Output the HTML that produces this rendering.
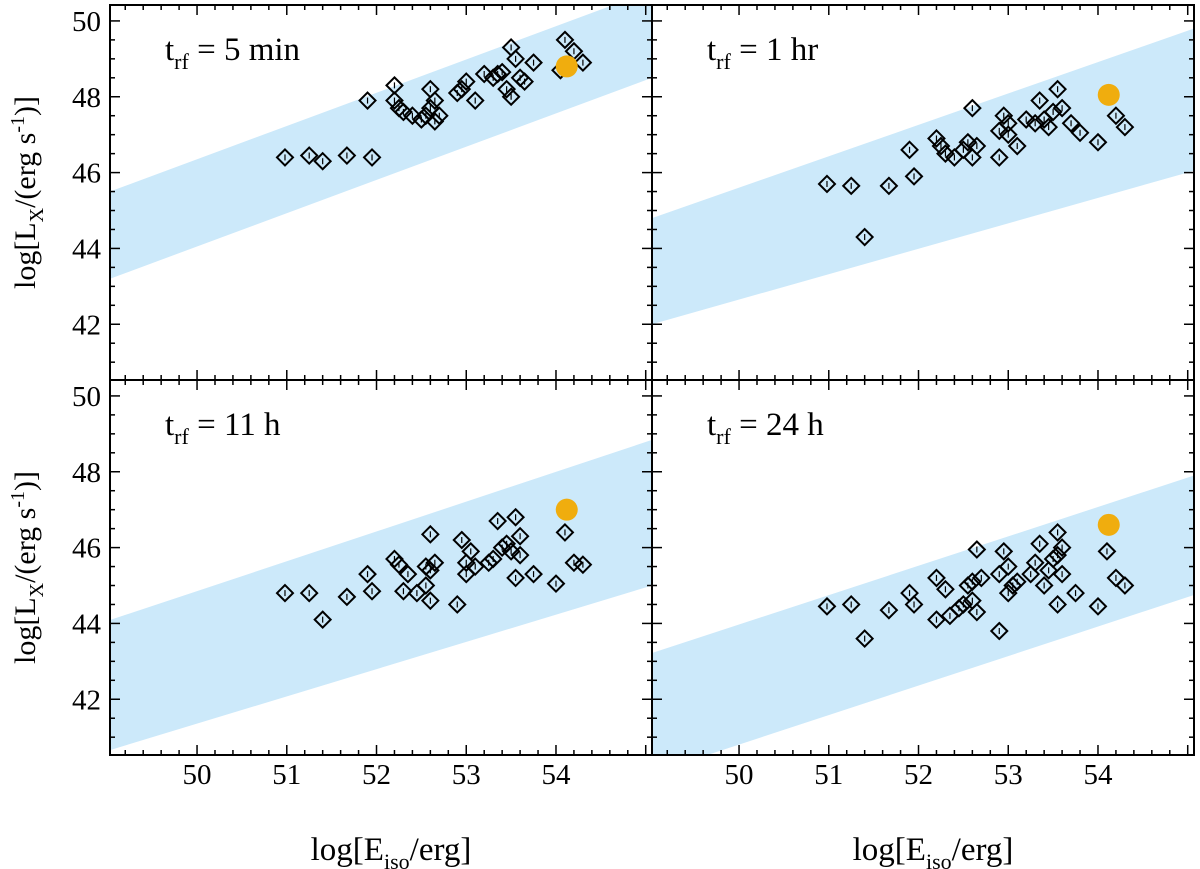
<!DOCTYPE html>
<html><head><meta charset="utf-8"><style>
body{margin:0;background:#fff;}
svg{display:block;font-family:"Liberation Serif",serif;}
</style></head><body>
<svg id="c" width="1200" height="869" viewBox="0 0 1200 869" xmlns="http://www.w3.org/2000/svg"></svg>
<script>
const panelLabels=["5 min","1 hr","11 h","24 h"];
const bandLower=[[43.2,48.5],[42.0,46.05],[40.66,45.0],[40.05,44.75]];
const bandUpper=[[45.5,50.8],[44.8,49.8],[44.09,48.84],[43.22,47.9]];
const grbX=[54.12,54.12,54.12,54.12];
const grbY=[48.8,48.05,47.0,46.6];
const ptsTL=[[50.98,46.4],[51.25,46.45],[51.4,46.3],[51.67,46.45],[51.95,46.4],[51.9,47.9],[52.2,48.3],[52.2,47.9],[52.25,47.7],[52.3,47.6],[52.4,47.5],[52.5,47.4],[52.55,47.5],[52.6,47.7],[52.6,48.2],[52.65,47.9],[52.7,47.5],[52.65,47.35],[52.9,48.1],[52.95,48.2],[53.0,48.4],[53.1,47.9],[53.2,48.6],[53.3,48.5],[53.35,48.6],[53.4,48.65],[53.45,48.2],[53.5,48.0],[53.5,49.3],[53.55,49.0],[53.6,48.5],[53.65,48.4],[53.75,48.9],[54.1,49.5],[54.2,49.2],[54.3,48.9],[54.05,48.7]];
const ptsTR=[[50.98,45.7],[51.25,45.65],[51.4,44.3],[51.67,45.65],[51.9,46.6],[51.95,45.9],[52.2,46.9],[52.25,46.7],[52.3,46.5],[52.4,46.4],[52.5,46.6],[52.55,46.8],[52.6,46.4],[52.6,47.7],[52.65,46.7],[52.9,46.4],[52.9,47.1],[52.95,47.5],[53.0,47.3],[53.0,47.0],[53.1,46.7],[53.2,47.4],[53.3,47.3],[53.35,47.9],[53.4,47.4],[53.45,47.2],[53.5,47.6],[53.55,48.2],[53.6,47.7],[53.7,47.3],[53.8,47.05],[54.0,46.8],[54.2,47.5],[54.3,47.2]];
const ptsBL=[[50.98,44.8],[51.25,44.8],[51.4,44.1],[51.67,44.7],[51.9,45.3],[51.95,44.85],[52.2,45.7],[52.25,45.55],[52.3,44.85],[52.35,45.3],[52.45,44.8],[52.55,45.5],[52.55,45.0],[52.6,45.4],[52.6,46.35],[52.65,45.6],[52.6,44.6],[52.9,44.5],[52.95,46.2],[53.0,45.6],[53.0,45.3],[53.05,45.9],[53.1,45.5],[53.25,45.6],[53.3,45.7],[53.35,46.7],[53.4,46.0],[53.45,46.1],[53.5,45.9],[53.55,46.8],[53.55,45.2],[53.6,46.3],[53.6,45.8],[53.75,45.3],[54.0,45.05],[54.1,46.4],[54.2,45.6],[54.3,45.55]];
const ptsBR=[[50.98,44.45],[51.25,44.5],[51.4,43.6],[51.67,44.35],[51.9,44.8],[51.95,44.5],[52.2,45.2],[52.2,44.1],[52.3,44.9],[52.35,44.2],[52.45,44.4],[52.5,44.5],[52.55,45.0],[52.6,45.1],[52.6,44.6],[52.65,45.95],[52.65,44.3],[52.7,45.2],[52.9,43.8],[52.9,45.3],[52.95,45.9],[53.0,45.5],[53.0,44.8],[53.05,45.0],[53.1,45.1],[53.25,45.3],[53.3,45.6],[53.35,46.1],[53.4,45.0],[53.45,45.4],[53.5,45.7],[53.55,46.4],[53.55,45.8],[53.55,44.5],[53.6,45.3],[53.6,46.0],[53.75,44.8],[54.0,44.45],[54.1,45.9],[54.2,45.2],[54.3,45.0]];
const allPts=[ptsTL,ptsTR,ptsBL,ptsBR];
const xTicks=[50,51,52,53,54];
const yTicks=[42,44,46,48,50];

const NS="http://www.w3.org/2000/svg";
const svg=document.getElementById('c');
function el(t,a,p){const e=document.createElementNS(NS,t);for(const k in a)e.setAttribute(k,a[k]);(p||svg).appendChild(e);return e;}
const X0=49.03,X1=55.07,Y0=40.53,Y1=50.42;
const PW=542,PH=375;
const origins=[[110,5],[652,5],[110,380],[652,380]];
for(let p=0;p<4;p++){
  const [ox,oy]=origins[p];
  const sx=v=>ox+(v-X0)/(X1-X0)*PW;
  const sy=v=>oy+(Y1-v)/(Y1-Y0)*PH;
  const g=el('g',{});
  
  
  const clipId='cl'+p;
  const cp=el('clipPath',{id:clipId},g);el('rect',{x:ox,y:oy,width:PW,height:PH},cp);
  const band=el('polygon',{points:`${sx(X0)},${sy(bandLower[p][0])} ${sx(X1)},${sy(bandLower[p][1])} ${sx(X1)},${sy(bandUpper[p][1])} ${sx(X0)},${sy(bandUpper[p][0])}`,fill:'#cce9fa','clip-path':`url(#${clipId})`},g);
  
  
  allPts[p].forEach(d=>{
    const x=sx(d[0]),y=sy(d[1]),r=8;
    const m=el('polygon',{points:`${x},${y-r} ${x+r},${y} ${x},${y+r} ${x-r},${y}`,fill:'none',stroke:'#000','stroke-width':2},g);
    
    
    el('line',{x1:x,y1:y-3,x2:x,y2:y+3,stroke:'#000','stroke-width':1.2},g);
  });
  const o=el('circle',{cx:sx(grbX[p]),cy:sy(grbY[p]),r:11,fill:'#f0ad0e'},g);
  
  
  for(let v=49.2;v<=55.01;v+=0.2){
    const x=sx(v),maj=Math.abs(v-Math.round(v))<0.01,L=maj?10:5;
    el('line',{x1:x,y1:oy+PH,x2:x,y2:oy+PH-L,stroke:'#000','stroke-width':1.5},g);
    el('line',{x1:x,y1:oy,x2:x,y2:oy+L,stroke:'#000','stroke-width':1.5},g);
  }
  for(let v=41;v<=50.01;v+=0.5){
    const y=sy(v),maj=Math.abs(v/2-Math.round(v/2))<0.01,L=maj?10:5;
    el('line',{x1:ox,y1:y,x2:ox+L,y2:y,stroke:'#000','stroke-width':1.5},g);
    el('line',{x1:ox+PW,y1:y,x2:ox+PW-L,y2:y,stroke:'#000','stroke-width':1.5},g);
  }
  el('rect',{x:ox,y:oy,width:PW,height:PH,fill:'none',stroke:'#000','stroke-width':2},g);
  const t=el('text',{x:ox+55,y:oy+55,'font-size':33},g);
  
  
  t.innerHTML=`t<tspan font-size="22" dy="9">rf</tspan><tspan dy="-9"> = ${panelLabels[p]}</tspan>`;
  if(p>=2){
    xTicks.forEach(v=>{const tx=el('text',{x:sx(v),y:784,'font-size':29,'text-anchor':'middle'},g);tx.textContent=v;
      });
    const xt=el('text',{x:ox+PW/2+10,y:860,'font-size':33,'text-anchor':'middle'},g);
    
    xt.innerHTML='log[E<tspan font-size="22" dy="9">iso</tspan><tspan dy="-9">/erg]</tspan>';
  }
  if(p%2===0){
    yTicks.forEach(v=>{const ty=el('text',{x:101,y:sy(v)+10,'font-size':29,'text-anchor':'end'},g);ty.textContent=v;
      });
    const yt=el('text',{transform:`translate(35,${oy+PH/2}) rotate(-90)`,'font-size':30,'text-anchor':'middle'},g);
    
    yt.innerHTML='log[L<tspan font-size="20" dy="8">X</tspan><tspan dy="-8">/(erg s</tspan><tspan font-size="20" dy="-11">-1</tspan><tspan dy="11">)]</tspan>';
  }
}
</script>
</body></html>
